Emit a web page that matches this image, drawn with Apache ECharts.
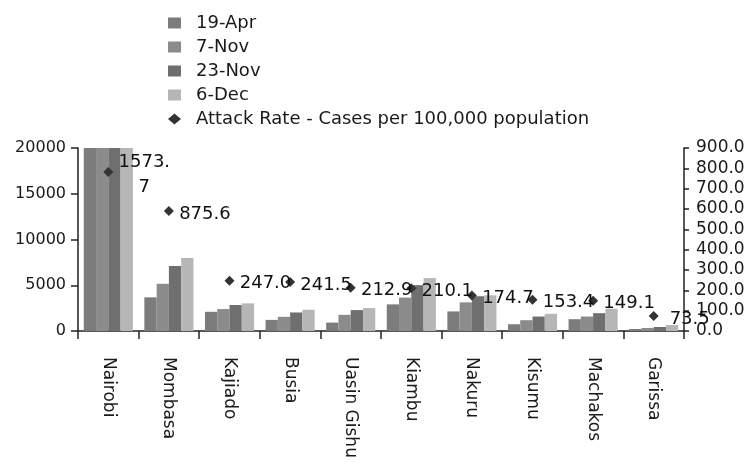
<!DOCTYPE html>
<html>
<head>
<meta charset="utf-8">
<script src="https://cdn.jsdelivr.net/npm/echarts@6/dist/echarts.min.js"></script>
<style>
html,body{margin:0;padding:0;background:#fff;}
#chart{width:750px;height:465px;}
</style>
</head>
<body>
<div id="chart"></div>
<script>
const categories = ['Nairobi', 'Mombasa', 'Kajiado', 'Busia', 'Uasin Gishu', 'Kiambu', 'Nakuru', 'Kisumu', 'Machakos', 'Garissa'];
const seriesNames = ['19-Apr', '7-Nov', '23-Nov', '6-Dec'];
const apr19 = [20000, 3680, 2100, 1215, 920, 2910, 2140, 740, 1290, 220];
const nov7  = [20000, 5160, 2400, 1550, 1770, 3650, 3130, 1180, 1580, 330];
const nov23 = [20000, 7100, 2840, 2025, 2285, 5010, 3800, 1580, 1950, 440];
const dec6  = [20000, 7990, 3020, 2320, 2505, 5780, 3900, 1880, 2430, 660];
const rateName = 'Attack Rate - Cases per 100,000 population';
// printed attack-rate labels
const attackRate = [1573.7, 875.6, 247.0, 241.5, 212.9, 210.1, 174.7, 153.4, 149.1, 73.5];
// marker heights as drawn in the picture (right axis)
const attackRateMarker = [782, 590, 247.0, 241.5, 212.9, 210.1, 174.7, 153.4, 149.1, 73.5];
const leftTicks = [0, 5000, 10000, 15000, 20000];
const rightTicks = [0, 100, 200, 300, 400, 500, 600, 700, 800, 900];

const FONT = 'DejaVu Sans';
const TXT = '#1a1a1a';
const colors = ['#7c7c7c', '#8b8b8b', '#6f6f6f', '#b6b6b6'];
const allBars = [apr19, nov7, nov23, dec6];

const chart = echarts.init(document.getElementById('chart'), null, {renderer: 'canvas'});
const barSeries = seriesNames.map((n, i) => ({
  name: n,
  type: 'bar',
  yAxisIndex: 0,
  data: allBars[i],
  barGap: '0%',
  barCategoryGap: '19%',
  itemStyle: {color: colors[i]},
  emphasis: {disabled: true},
  animation: false
}));

chart.setOption({
  animation: false,
  backgroundColor: '#ffffff',
  textStyle: {fontFamily: FONT},
  legend: {
    orient: 'vertical',
    left: 163,
    top: 9,
    itemWidth: 13,
    itemHeight: 11,
    itemGap: 6,
    textStyle: {fontFamily: FONT, fontSize: 18, color: TXT, padding: [0, 0, 0, 10]},
    data: seriesNames.map(n => ({name: n, icon: 'rect'})).concat([{name: rateName, icon: 'diamond'}])
  },
  grid: {left: 78, right: 66, top: 148, bottom: 134, containLabel: false},
  xAxis: {
    type: 'category',
    data: categories,
    boundaryGap: true,
    axisLine: {lineStyle: {color: '#222', width: 1.5}},
    axisTick: {show: true, alignWithLabel: false, interval: 0, length: 8, lineStyle: {color: '#222', width: 1.5}},
    axisLabel: {interval: 0, rotate: -90, margin: 26, fontFamily: FONT, fontSize: 17, color: TXT}
  },
  yAxis: [
    {
      type: 'value', min: leftTicks[0], max: leftTicks[leftTicks.length - 1], interval: 5000,
      position: 'left',
      splitLine: {show: false},
      axisLine: {show: true, lineStyle: {color: '#222', width: 1.5}},
      axisTick: {show: true, length: 7, lineStyle: {color: '#222', width: 1.5}},
      axisLabel: {margin: 12, fontFamily: FONT, fontSize: 16, color: TXT, formatter: v => String(v)}
    },
    {
      type: 'value', min: rightTicks[0], max: rightTicks[rightTicks.length - 1], interval: 100,
      position: 'right',
      splitLine: {show: false},
      axisLine: {show: true, lineStyle: {color: '#222', width: 1.5}},
      axisTick: {show: true, length: 5, lineStyle: {color: '#222', width: 1.5}},
      axisLabel: {margin: 12, fontFamily: FONT, fontSize: 17, color: TXT, formatter: v => v.toFixed(1)}
    }
  ],
  series: barSeries.concat([{
    name: rateName,
    type: 'scatter',
    yAxisIndex: 1,
    data: attackRateMarker,
    symbol: 'diamond',
    symbolSize: 10,
    itemStyle: {color: '#333333', opacity: 1},
    emphasis: {disabled: true},
    z: 5,
    label: {
      show: true,
      position: 'right',
      distance: 31,
      align: 'center',
      width: 54,
      overflow: 'breakAll',
      lineHeight: 25,
      offset: [0, 3],
      fontFamily: FONT,
      fontSize: 18,
      color: '#111111',
      formatter: p => attackRate[p.dataIndex].toFixed(1)
    }
  }])
});
</script>
</body>
</html>
